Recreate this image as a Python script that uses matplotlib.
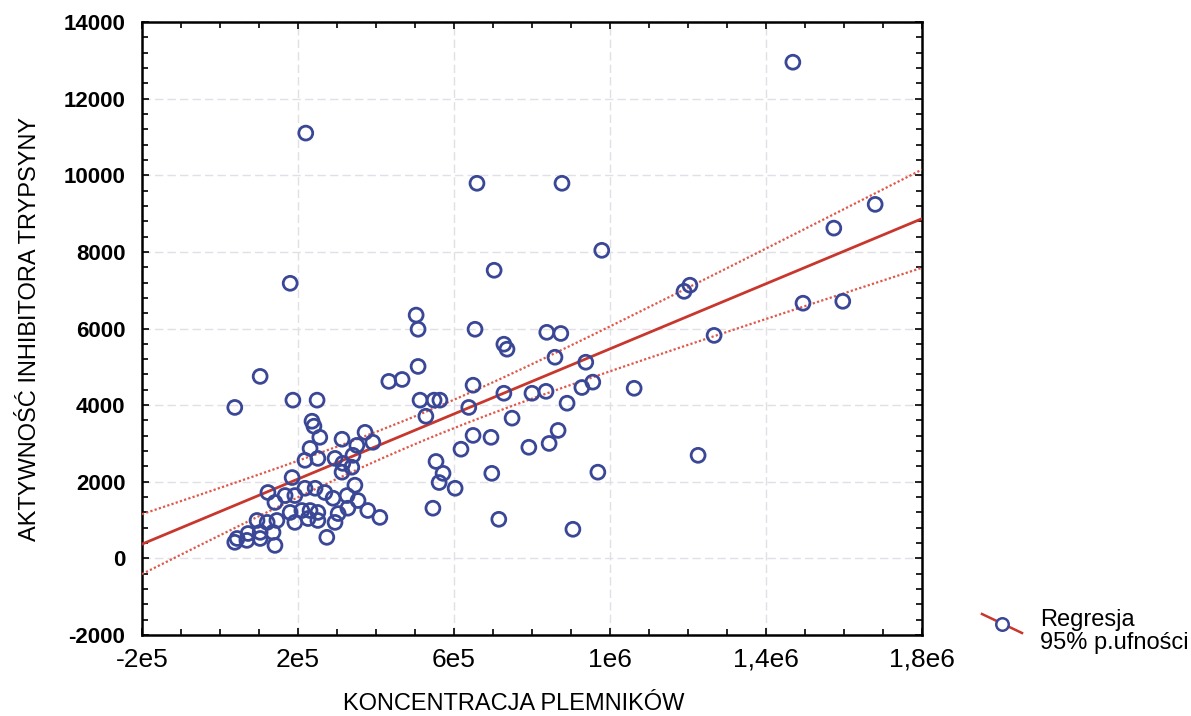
import numpy as np
import matplotlib.pyplot as plt
from matplotlib.lines import Line2D
from matplotlib.ticker import MultipleLocator, FuncFormatter


# =========================
# DATA
# =========================
# koncentracja plemnikow
conc = [
    1469e3, 220e3, 659e3, 877e3, 979e3, 703e3, 180e3, 1680e3, 1574e3,
    1190e3, 1205e3, 1495e3, 1597e3, 1267e3, 1226e3, 1062e3, 969e3, 905e3,
    433e3, 467e3, 508e3, 503e3, 508e3, 654e3, 838e3, 874e3, 728e3, 736e3,
    859e3, 938e3, 649e3, 513e3, 549e3, 564e3, 728e3, 800e3, 836e3, 928e3,
    956e3, 638e3, 528e3, 890e3, 749e3, 649e3, 695e3, 618e3, 867e3, 844e3,
    792e3, 554e3, 572e3, 562e3, 603e3, 697e3, 546e3, 715e3,
    103e3, 38e3, 187e3, 249e3, 236e3, 241e3, 256e3, 313e3, 372e3, 392e3,
    351e3, 231e3, 218e3, 251e3, 295e3, 341e3, 315e3, 338e3, 313e3, 346e3,
    185e3, 123e3, 141e3, 167e3, 192e3, 218e3, 244e3, 269e3, 290e3, 326e3,
    354e3, 328e3, 180e3, 210e3, 231e3, 251e3, 192e3, 226e3, 251e3, 303e3,
    295e3, 379e3, 410e3, 146e3, 121e3, 95e3, 72e3, 103e3, 136e3, 44e3,
    38e3, 69e3, 103e3, 141e3, 274e3,
]
# aktywnosc inhibitora trypsyny
activity = [
    12950, 11100, 9790, 9790, 8040, 7520, 7180, 9240, 8620,
    6970, 7130, 6660, 6710, 5820, 2690, 4440, 2250, 760,
    4620, 4670, 5010, 6350, 5980, 5980, 5900, 5870, 5590, 5460,
    5250, 5120, 4520, 4130, 4130, 4130, 4310, 4310, 4360, 4460,
    4600, 3940, 3710, 4050, 3660, 3210, 3160, 2850, 3340, 3000,
    2900, 2530, 2220, 1980, 1830, 2220, 1310, 1020,
    4750, 3940, 4130, 4130, 3580, 3450, 3160, 3110, 3290, 3030,
    2950, 2870, 2560, 2610, 2610, 2690, 2480, 2380, 2250, 1910,
    2110, 1720, 1460, 1640, 1640, 1830, 1830, 1720, 1570, 1640,
    1510, 1310, 1200, 1250, 1250, 1200, 940, 1040, 990, 1170,
    940, 1250, 1070, 990, 940, 990, 650, 680, 680, 520,
    420, 470, 520, 340, 550,
]

x_ticks = [-2e5, 2e5, 6e5, 1e6, 1.4e6, 1.8e6]
x_tick_labels = ["-2e5", "2e5", "6e5", "1e6", "1,4e6", "1,8e6"]

X_LIM = (-2e5, 1.8e6)
Y_LIM = (-2000, 14000)


# =========================
# REGRESSION + 95% CI
# =========================
x = np.array(conc)
y = np.array(activity)
n = len(x)

slope, intercept = np.polyfit(x, y, 1)
resid = y - (intercept + slope * x)
s = np.sqrt(np.sum(resid ** 2) / (n - 2))
sxx = np.sum((x - x.mean()) ** 2)
t_val = 1.979

xx = np.linspace(X_LIM[0], X_LIM[1], 300)
yy = intercept + slope * xx
half = t_val * s * np.sqrt(1.0 / n + (xx - x.mean()) ** 2 / sxx)


# =========================
# PLOT
# =========================
font = ["Liberation Sans", "DejaVu Sans"]

fig = plt.figure(figsize=(11.91, 7.16), dpi=100)
ax = fig.add_axes([0.1192, 0.1131, 0.6549, 0.8562])

ax.grid(True, which="major", color="#e0e0e6", linestyle=(0, (6, 3)), linewidth=1.0)
ax.set_axisbelow(True)

ax.plot(xx, yy, color="#c8372d", linewidth=2.0, zorder=3)
ax.plot(xx, yy + half, color="#e0584a", linewidth=1.6, linestyle=(0, (1, 1)), zorder=3)
ax.plot(xx, yy - half, color="#e0584a", linewidth=1.6, linestyle=(0, (1, 1)), zorder=3)

ax.scatter(x, y, s=100, facecolors="none", edgecolors="#3a4796", linewidths=2.0, zorder=4)

ax.set_xlim(*X_LIM)
ax.set_ylim(*Y_LIM)

ax.set_xticks(x_ticks)
ax.set_xticklabels(x_tick_labels, family=font, fontsize=19)
ax.xaxis.set_minor_locator(MultipleLocator(1e5))
ax.yaxis.set_major_locator(MultipleLocator(2000))
ax.yaxis.set_minor_locator(MultipleLocator(400))
ax.yaxis.set_major_formatter(FuncFormatter(lambda v, p: f"{v:.0f}"))
for lab in ax.get_yticklabels():
    lab.set_family(font)
    lab.set_fontweight("bold")
    lab.set_fontsize(16)

ax.tick_params(which="both", direction="in", top=True, right=True, width=1.2, color="black")
ax.tick_params(which="major", length=5)
ax.tick_params(which="minor", length=4)
ax.tick_params(axis="x", pad=9)
ax.tick_params(axis="y", pad=12)

for sp in ax.spines.values():
    sp.set_linewidth(1.8)
    sp.set_color("black")

ax.set_xlabel("KONCENTRACJA PLEMNIKÓW", family=font, fontsize=17, labelpad=14)
ax.xaxis.set_label_coords(0.476, -0.095)
ax.set_ylabel("AKTYWNOŚĆ INHIBITORA TRYPSYNY", family=font, fontsize=17, labelpad=16)

# legend (diagonal line through a circle, like the original)
W, H = 1191.0, 716.0
fig.add_artist(Line2D([982 / W, 1022 / W], [1 - 614 / H, 1 - 633 / H],
                      transform=fig.transFigure, color="#c8372d", linewidth=1.8))
fig.add_artist(Line2D([1002 / W], [1 - 624 / H], transform=fig.transFigure,
                      marker="o", markersize=9, markerfacecolor="white",
                      markeredgecolor="#3a4796", markeredgewidth=1.8))
fig.text(1040 / W, 1 - 609 / H, "Regresja\n95% p.ufności", family=font,
         fontsize=17, va="top", ha="left", linespacing=1.05)

fig.savefig("out.png", dpi=100)
